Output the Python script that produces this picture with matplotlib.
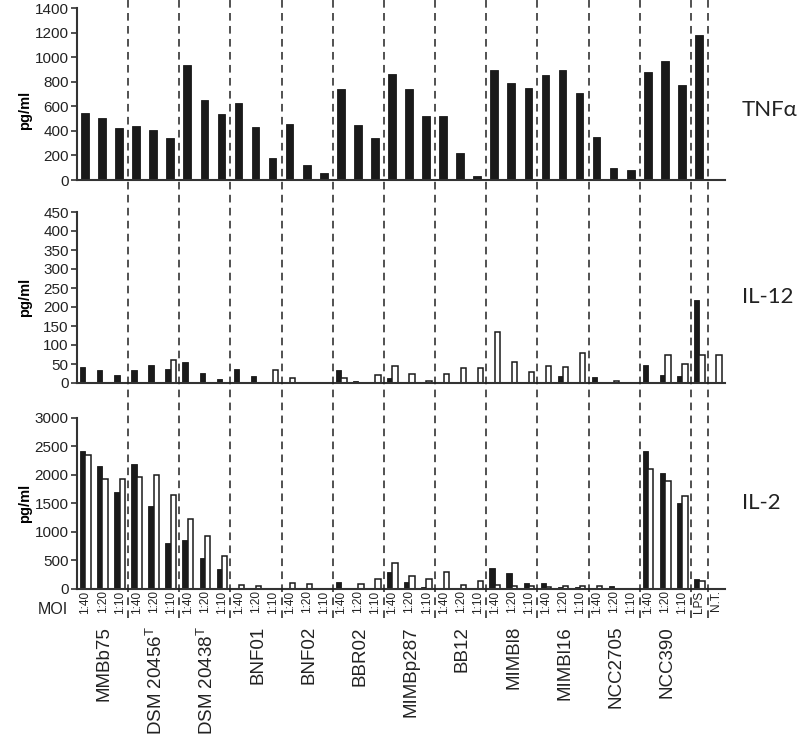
import matplotlib.pyplot as plt
import numpy as np
from matplotlib.transforms import blended_transform_factory

plt.rcParams['font.family'] = ['Liberation Sans', 'DejaVu Sans']

# souches et MOI
souches = ['MMBb75', 'DSM 20456$^\\mathregular{T}$', 'DSM 20438$^\\mathregular{T}$', 'BNF01', 'BNF02',
           'BBR02', 'MIMBp287', 'BB12', 'MIMBl8', 'MIMBl16', 'NCC2705', 'NCC390']
moi = ['1:40', '1:20', '1:10']
etiquettes = moi * len(souches) + ['LPS', 'N.T.']

# TNFa (une seule série)
tnf = [545, 505, 423, 440, 404, 342, 933, 648, 540, 624, 431, 182, 458, 119, 60,
       741, 448, 342, 863, 741, 518, 524, 220, 30, 898, 790, 752, 857, 893, 705,
       350, 95, 79, 876, 969, 776, 1183, 8]

# IL-12 : barres noires / barres blanches
il12_noir = [41, 34, 21, 34, 47, 36, 56, 27, 10, 38, 19, 0, 0, 0, 0,
             35, 5, 0, 14, 0, 1, 0, 0, 0, 0, 0, 0, 0, 19, 2,
             17, 1, 0, 47, 21, 18, 218, 0]
il12_blanc = [0, 0, 0, 0, 0, 61, 0, 0, 0, 0, 0, 34, 13, 0, 0,
              14, 0, 22, 44, 25, 5, 25, 39, 39, 135, 54, 28, 45, 42, 79,
              0, 5, 0, 0, 73, 51, 73, 73]

# IL-2 : barres noires / barres blanches
il2_noir = [2412, 2155, 1699, 2190, 1448, 806, 858, 537, 350, 0, 0, 0, 0, 0, 0,
            117, 0, 0, 304, 128, 35, 0, 0, 0, 362, 274, 111, 111, 41, 29,
            18, 53, 0, 2412, 2026, 1501, 169, 0]
il2_blanc = [2342, 1927, 1927, 1968, 1991, 1647, 1232, 929, 572, 64, 53, 0, 105, 93, 0,
             0, 93, 181, 461, 234, 181, 298, 64, 134, 64, 53, 53, 41, 53, 53,
             53, 0, 0, 2097, 1898, 1629, 134, 0]

x = np.arange(len(etiquettes))
W, H = 800, 741
fig = plt.figure(figsize=(W / 100, H / 100), dpi=100)

def pos(y_haut, y_bas):
    # position en pixels -> fraction de figure
    return [77 / W, (H - y_bas) / H, 648 / W, (y_bas - y_haut) / H]

ax1 = fig.add_axes(pos(8, 180))
ax2 = fig.add_axes(pos(212, 383))
ax3 = fig.add_axes(pos(417.7, 589))

noir = '#1a1a1a'
ax1.bar(x - 0.03, tnf, width=0.45, color=noir, edgecolor=noir, linewidth=0.6)
for ax, n, b in [(ax2, il12_noir, il12_blanc), (ax3, il2_noir, il2_blanc)]:
    ax.bar(x - 0.16, n, width=0.31, color=noir, edgecolor=noir, linewidth=0.6)
    ax.bar(x + 0.15, b, width=0.31, color='white', edgecolor=noir, linewidth=1.1)

limites = [(ax1, 1400, 200, 'TNFα', 110), (ax2, 450, 50, 'IL-12', 297), (ax3, 3000, 500, 'IL-2', 503)]
for ax, ymax, pas, nom, yc in limites:
    ax.set_xlim(-0.5, 37.5)
    ax.set_ylim(0, ymax)
    ax.set_yticks(np.arange(0, ymax + 1, pas))
    ax.tick_params(axis='y', labelsize=11, length=4, width=1.2, color='#333333',
                   labelcolor='#222222', pad=2)
    ax.tick_params(axis='x', length=0)
    for s in ['top', 'right']:
        ax.spines[s].set_visible(False)
    for s in ['left', 'bottom']:
        ax.spines[s].set_linewidth(1.5)
        ax.spines[s].set_color('#333333')
    ax.patch.set_alpha(0)
    fig.text(25 / W, (H - yc) / H, 'pg/ml', rotation=90, fontsize=10.5, fontweight='bold',
             ha='center', va='center')
    fig.text(742 / W, (H - yc) / H, nom, fontsize=16, family=['Lato', 'DejaVu Sans'],
             ha='left', va='center', color='#222222')

ax1.set_xticks([])
ax2.set_xticks([])
ax3.set_xticks(x)
ax3.set_xticklabels(etiquettes, rotation=90, fontsize=8.5, color='#222222')
ax3.tick_params(axis='x', pad=1)

fig.text(68 / W, (H - 609) / H, 'MOI', fontsize=11.5, ha='right', va='center', color='#222222')

# noms des souches sous les groupes
tr = blended_transform_factory(ax3.transData, fig.transFigure)
for i, s in enumerate(souches):
    ax3.text(3 * i + 1.1, (H - 626) / H, s, transform=tr, rotation=90, fontsize=13.5,
             ha='center', va='top', color='#222222')

# lignes pointillées entre les groupes, sur toute la hauteur
axl = fig.add_axes([77 / W, (H - 618) / H, 648 / W, 618 / H])
axl.set_xlim(-0.5, 37.5)
axl.set_ylim(0, 1)
axl.axis('off')
for b in list(np.arange(2.5, 36, 3)) + [36.5]:
    axl.axvline(b, color='#222222', linestyle=(0, (5, 3.5)), linewidth=1.1)

fig.savefig('out.png', dpi=100)
